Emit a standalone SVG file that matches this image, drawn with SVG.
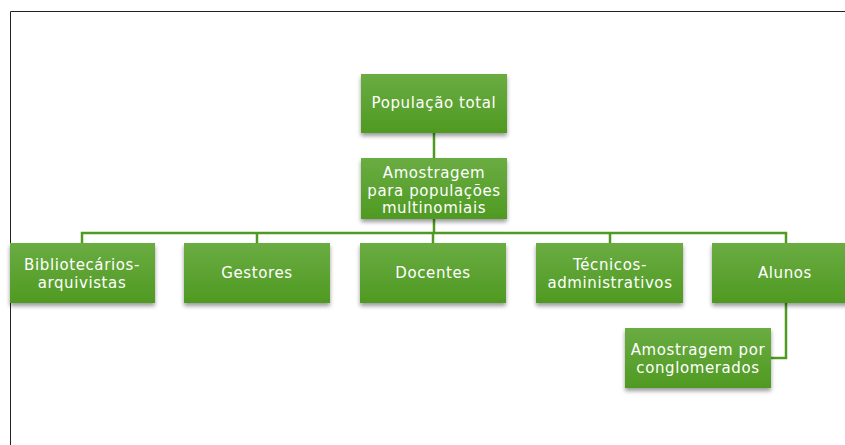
<svg xmlns="http://www.w3.org/2000/svg" width="845" height="445" viewBox="0 0 845 445">
  <defs>
    <linearGradient id="boxFill" x1="0" y1="0" x2="0" y2="1">
      <stop offset="0" stop-color="#6aac42"/>
      <stop offset="1" stop-color="#4f9a22"/>
    </linearGradient>
    <filter id="shadow" x="-10%" y="-10%" width="120%" height="140%">
      <feDropShadow dx="0" dy="3" stdDeviation="2" flood-color="#000" flood-opacity="0.4"/>
    </filter>
  </defs>
  <style>
    .box { fill: url(#boxFill); filter: url(#shadow); }
    .lbl { fill: #ffffff; font-family: "DejaVu Sans", "Noto Sans", sans-serif; font-size: 15px; letter-spacing: 0.6px; text-anchor: middle; }
    .conn { fill: none; stroke: #4f9a22; stroke-width: 2.5; }
    .frame { fill: none; stroke: #222; stroke-width: 1; }
  </style>

  <rect width="845" height="445" fill="#ffffff"/>
  <path class="frame" d="M10.5,445 V11.5 H845"/>

  <g id="connectors">
    <path class="conn" d="M434,133 V158"/>
    <path class="conn" d="M434,219 V233"/>
    <path class="conn" d="M82,243 V233 H786 V243"/>
    <path class="conn" d="M257,233 V243"/>
    <path class="conn" d="M433,233 V243"/>
    <path class="conn" d="M610,233 V243"/>
    <path class="conn" d="M786,303 V358 H771"/>
  </g>

  <g id="populacao-total">
    <rect class="box" x="361" y="74" width="146" height="59"/>
    <text class="lbl" x="434" y="108">População total</text>
  </g>

  <g id="amostragem-multinomiais">
    <rect class="box" x="361" y="158" width="146" height="61"/>
    <text class="lbl" x="434" y="178">Amostragem</text>
    <text class="lbl" x="434" y="196">para populações</text>
    <text class="lbl" x="434" y="213">multinomiais</text>
  </g>

  <g id="bibliotecarios">
    <rect class="box" x="10" y="243" width="145" height="60"/>
    <text class="lbl" x="82" y="270">Bibliotecários-</text>
    <text class="lbl" x="82" y="288">arquivistas</text>
  </g>

  <g id="gestores">
    <rect class="box" x="184" y="243" width="146" height="60"/>
    <text class="lbl" x="257" y="278">Gestores</text>
  </g>

  <g id="docentes">
    <rect class="box" x="360" y="243" width="146" height="60"/>
    <text class="lbl" x="433" y="278">Docentes</text>
  </g>

  <g id="tecnicos">
    <rect class="box" x="536" y="243" width="147" height="60"/>
    <text class="lbl" x="610" y="270">Técnicos-</text>
    <text class="lbl" x="610" y="288">administrativos</text>
  </g>

  <g id="alunos">
    <rect class="box" x="712" y="243" width="146" height="60"/>
    <text class="lbl" x="785" y="278">Alunos</text>
  </g>

  <g id="amostragem-conglomerados">
    <rect class="box" x="625" y="328" width="146" height="60"/>
    <text class="lbl" x="698" y="355">Amostragem por</text>
    <text class="lbl" x="698" y="373">conglomerados</text>
  </g>
</svg>
